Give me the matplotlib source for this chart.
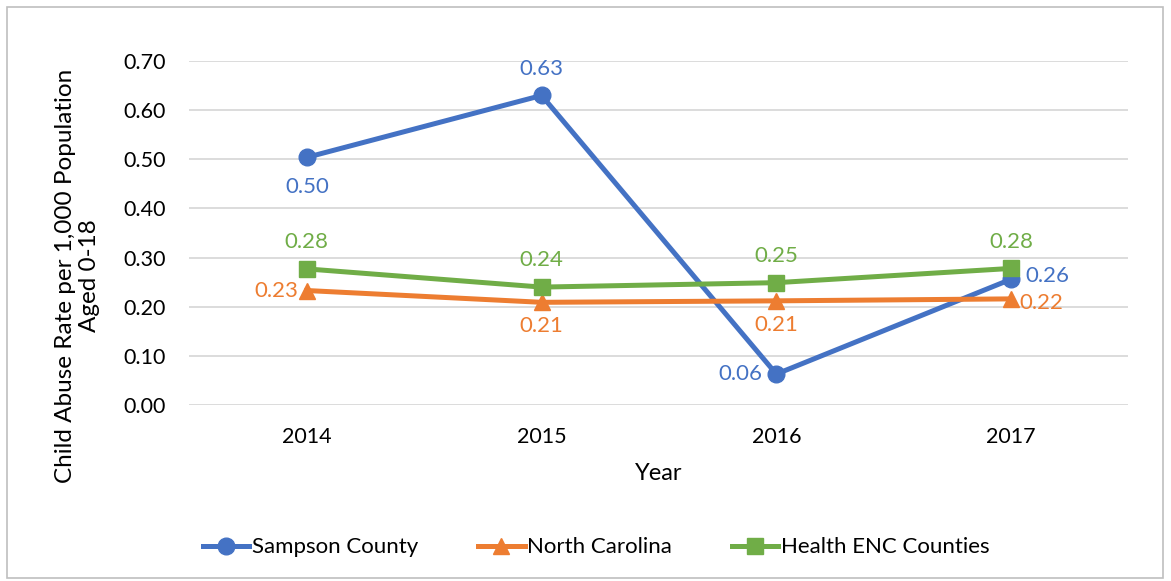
import matplotlib.pyplot as plt
from matplotlib.patches import Rectangle

# Child abuse rate per 1,000 population aged 0-18
years = ["2014", "2015", "2016", "2017"]
sampson = [0.504, 0.630, 0.063, 0.256]
north_carolina = [0.233, 0.209, 0.212, 0.216]
health_enc = [0.277, 0.240, 0.249, 0.278]

series_names = ["Sampson County", "North Carolina", "Health ENC Counties"]
colors = ["#4472C4", "#ED7D31", "#70AD47"]
markers = ["o", "^", "s"]

# where each data label sits relative to its point (dx, dy, ha, va)
label_pos = [
    [(0, -14, "center", "top"), (0, 12, "center", "bottom"),
     (-10, 0, "right", "center"), (10, 2, "left", "center")],
    [(-6, 0, "right", "center"), (0, -10, "center", "top"),
     (0, -10, "center", "top"), (6, -3, "left", "center")],
    [(0, 12, "center", "bottom"), (0, 12, "center", "bottom"),
     (0, 12, "center", "bottom"), (0, 12, "center", "bottom")],
]

plt.rcParams['font.family'] = ['Lato', 'DejaVu Sans']

fig = plt.figure(figsize=(11.71, 5.81), dpi=100)
ax = fig.add_axes([0.1618, 0.3029, 0.8019, 0.592])

x = list(range(len(years)))
data = [sampson, north_carolina, health_enc]
for vals, name, c, m, pos in zip(data, series_names, colors, markers, label_pos):
    ax.plot(x, vals, color=c, lw=3.6, marker=m, ms=12, label=name, zorder=3)
    for xi, v, (dx, dy, ha, va) in zip(x, vals, pos):
        ax.annotate(f"{v:.2f}", (xi, v), xytext=(dx, dy), textcoords="offset points",
                    ha=ha, va=va, color=c, fontsize=16)

ax.set_xlim(-0.5, len(years) - 0.5)
ax.set_ylim(0, 0.70)
ax.set_yticks([i / 10 for i in range(8)])
ax.set_yticklabels([f"{i / 10:.2f}" for i in range(8)])
ax.set_xticks(x)
ax.set_xticklabels(years)
ax.tick_params(length=0, labelsize=15.5)
ax.tick_params(axis='y', pad=17)
ax.tick_params(axis='x', pad=16)
ax.grid(axis='y', color='#D9D9D9', lw=1.3)
ax.set_axisbelow(True)
for s in ax.spines.values():
    s.set_visible(False)

ax.set_xlabel("Year", fontsize=17)
ax.xaxis.set_label_coords(0.5, -0.17)
ax.set_ylabel("Child Abuse Rate per 1,000 Population\nAged 0-18", fontsize=17.5)
ax.yaxis.set_label_coords(-0.095, 0.375)

fig.legend(loc="center", bbox_to_anchor=(0.509, 0.058), ncol=3, frameon=False,
           fontsize=16, handlelength=2.1, handletextpad=0.1, columnspacing=2.7)

fig.patches.append(Rectangle((7 / 1171, 3 / 581), 1156 / 1171, 571 / 581,
                             transform=fig.transFigure, fill=False,
                             edgecolor='#BFBFBF', lw=1.2))

fig.savefig("out.png", dpi=100)
